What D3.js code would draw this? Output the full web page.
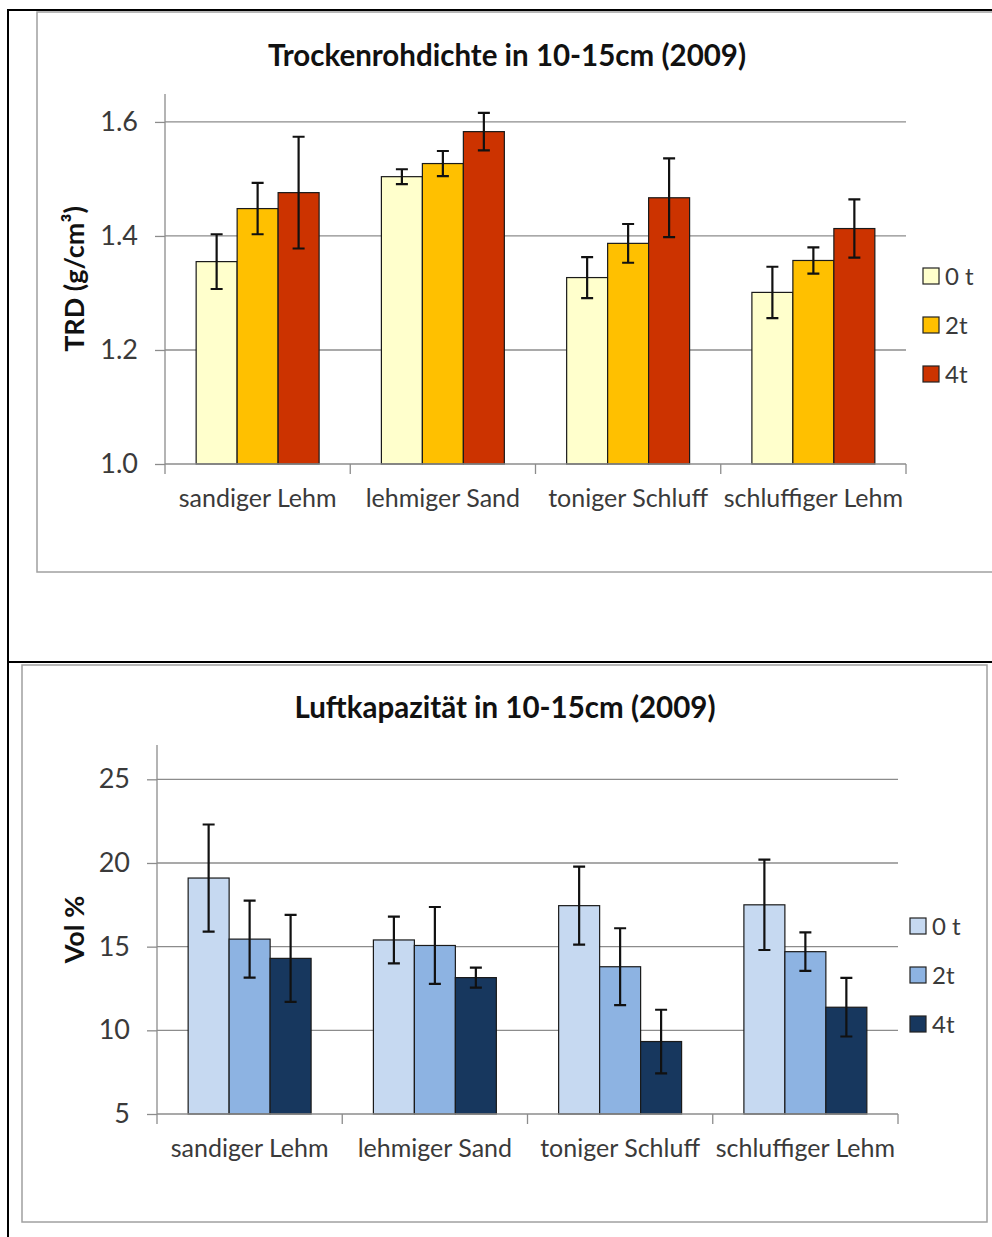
<!DOCTYPE html>
<html><head><meta charset="utf-8">
<script src="https://cdn.jsdelivr.net/npm/d3@7"></script>
<style>body{margin:0;background:#fff}svg{display:block}</style>
</head><body>
<svg id="c" width="992" height="1237"></svg>
<script>
const categories = ["sandiger Lehm","lehmiger Sand","toniger Schluff","schluffiger Lehm"];
const seriesNames = ["0 t","2t","4t"];

// Trockenrohdichte (g/cm³)
const trd0 = [1.355,1.504,1.327,1.301];
const trd2 = [1.448,1.527,1.387,1.357];
const trd4 = [1.476,1.583,1.467,1.413];
const trdErr0 = [0.048,0.013,0.036,0.045];
const trdErr2 = [0.045,0.022,0.034,0.023];
const trdErr4 = [0.098,0.033,0.069,0.051];
const trdTicks = [1.0,1.2,1.4,1.6];

// Luftkapazität (Vol %)
const lk0 = [19.1,15.4,17.45,17.5];
const lk2 = [15.45,15.07,13.8,14.7];
const lk4 = [14.3,13.15,9.33,11.38];
const lkErr0 = [3.2,1.4,2.33,2.7];
const lkErr2 = [2.3,2.3,2.3,1.15];
const lkErr4 = [2.6,0.6,1.9,1.75];
const lkTicks = [5,10,15,20,25];

const svg = d3.select("#c");
const FONT = "Lato, 'Open Sans', sans-serif";

// frames
svg.append("rect").attr("x",37).attr("y",12).attr("width",1000).attr("height",560)
  .attr("fill","none").attr("stroke","#a0a0a0").attr("stroke-width",1.5);
svg.append("rect").attr("x",22).attr("y",665).attr("width",965).attr("height",557)
  .attr("fill","none").attr("stroke","#a0a0a0").attr("stroke-width",1.5);
svg.append("line").attr("x1",7).attr("x2",992).attr("y1",10).attr("y2",10).attr("stroke","#000").attr("stroke-width",2);
svg.append("line").attr("x1",8).attr("x2",8).attr("y1",9).attr("y2",1237).attr("stroke","#000").attr("stroke-width",2);
svg.append("line").attr("x1",7).attr("x2",992).attr("y1",662).attr("y2",662).attr("stroke","#000").attr("stroke-width",2);

function drawChart(o){
  const g = svg.append("g");
  const x0 = d3.scaleBand().domain(categories).range([o.left,o.right]).padding(0);
  const x1 = d3.scaleBand().domain(seriesNames).range([0,x0.bandwidth()]).paddingInner(0).paddingOuter(0.76);
  const y = d3.scaleLinear().domain(o.domain).range([o.bottom,o.top]);

  // gridlines
  g.selectAll(".grid").data(o.ticks.slice(1)).join("line")
    .attr("x1",o.left).attr("x2",o.right).attr("y1",d=>y(d)).attr("y2",d=>y(d))
    .attr("stroke","#8c8c8c").attr("stroke-width",1.3);

  // y axis
  const ya = g.append("g").attr("transform",`translate(${o.left},0)`)
    .call(d3.axisLeft(y).tickValues(o.ticks).tickSize(10).tickPadding(17).tickFormat(o.fmt));
  ya.select(".domain").attr("stroke","#8c8c8c").attr("stroke-width",1.3)
    .attr("d",`M0,${o.top}V${o.bottom}`);
  ya.selectAll(".tick line").attr("stroke","#8c8c8c").attr("stroke-width",1.3);
  ya.selectAll(".tick text").attr("font-family",FONT).attr("font-size",27).attr("fill","#3a3a3a");

  // bars
  o.means.forEach((vals,si)=>{
    g.selectAll(null).data(categories).join("rect")
      .attr("x",c=>x0(c)+x1(seriesNames[si]))
      .attr("width",x1.bandwidth())
      .attr("y",(c,i)=>y(vals[i]))
      .attr("height",(c,i)=>o.bottom-y(vals[i]))
      .attr("fill",o.colors[si]).attr("stroke","#1a1a1a").attr("stroke-width",1.2);
  });
  // error bars
  o.means.forEach((vals,si)=>{
    const errs = o.errs[si];
    categories.forEach((c,i)=>{
      const cx = x0(c)+x1(seriesNames[si])+x1.bandwidth()/2;
      const hi = y(vals[i]+errs[i]), lo = y(vals[i]-errs[i]);
      g.append("path").attr("d",`M${cx},${hi}V${lo}M${cx-6},${hi}H${cx+6}M${cx-6},${lo}H${cx+6}`)
        .attr("stroke","#111").attr("stroke-width",2.2).attr("fill","none");
    });
  });

  // x axis
  g.append("line").attr("x1",o.left).attr("x2",o.right).attr("y1",o.bottom).attr("y2",o.bottom)
    .attr("stroke","#8c8c8c").attr("stroke-width",1.3);
  const bounds = categories.map(c=>x0(c)).concat([o.right]);
  g.selectAll(".xt").data(bounds).join("line")
    .attr("x1",d=>d).attr("x2",d=>d).attr("y1",o.bottom).attr("y2",o.bottom+10)
    .attr("stroke","#8c8c8c").attr("stroke-width",1.3);
  g.selectAll(".xl").data(categories).join("text")
    .attr("x",c=>x0(c)+x0.bandwidth()/2).attr("y",o.bottom+43)
    .attr("text-anchor","middle").attr("font-family",FONT).attr("font-size",25).attr("fill","#3a3a3a")
    .text(c=>c);

  // title
  g.append("text").attr("x",o.titleX).attr("y",o.titleY).attr("text-anchor","middle")
    .attr("font-family",FONT).attr("font-weight","bold").attr("font-size",29.5).attr("fill","#111")
    .text(o.title);
  // y label
  g.append("text").attr("transform",`translate(${o.ylabX},${(o.top+o.bottom)/2}) rotate(-90)`)
    .attr("text-anchor","middle").attr("font-family",FONT).attr("font-weight","bold")
    .attr("font-size",27).attr("fill","#111").text(o.ylabel);

  // legend
  seriesNames.forEach((s,i)=>{
    const cy = o.legY + i*49;
    g.append("rect").attr("x",o.legX).attr("y",cy-8).attr("width",16).attr("height",16)
      .attr("fill",o.colors[i]).attr("stroke","#222").attr("stroke-width",1.2);
    g.append("text").attr("x",o.legX+22).attr("y",cy+9).attr("font-family",FONT)
      .attr("font-size",24).attr("fill","#3a3a3a").text(s);
  });
}

drawChart({
  left:165,right:906,top:94,bottom:464,domain:[1.0,1.649],ticks:trdTicks,fmt:d3.format(".1f"),
  means:[trd0,trd2,trd4],errs:[trdErr0,trdErr2,trdErr4],
  colors:["#FFFFCC","#FFC000","#CC3300"],
  title:"Trockenrohdichte in 10-15cm (2009)",titleX:507,titleY:66,
  ylabel:"TRD (g/cm³)",ylabX:84,legX:923,legY:276
});
drawChart({
  left:157,right:898,top:745,bottom:1114,domain:[5,27.05],ticks:lkTicks,fmt:d3.format("d"),
  means:[lk0,lk2,lk4],errs:[lkErr0,lkErr2,lkErr4],
  colors:["#C6D9F1","#8DB3E2","#17375E"],
  title:"Luftkapazität in 10-15cm (2009)",titleX:505,titleY:718,
  ylabel:"Vol %",ylabX:84,legX:910,legY:926
});
</script>
</body></html>
